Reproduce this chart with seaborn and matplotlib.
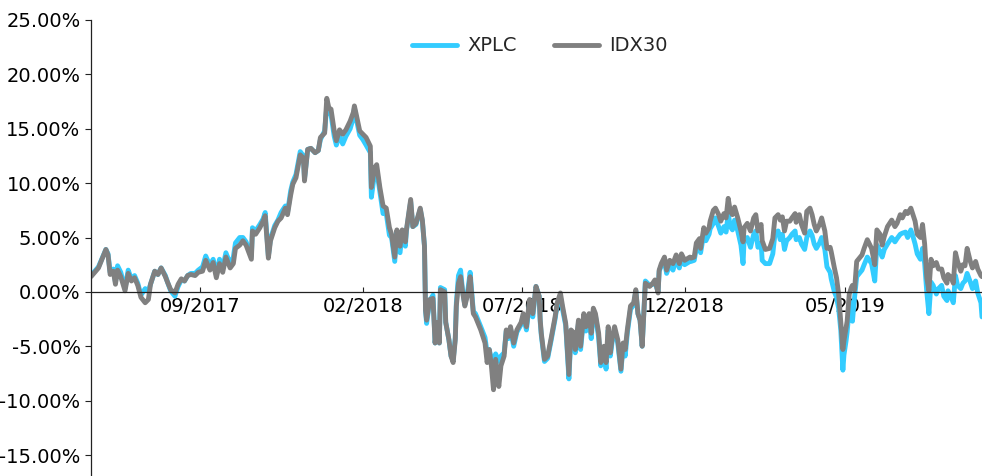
import matplotlib
matplotlib.use("Agg")
import matplotlib.pyplot as plt
import matplotlib.dates as mdates
from matplotlib.ticker import FixedLocator, FuncFormatter
import pandas as pd
import seaborn as sns

# ---------------- data ----------------
start_date = "2017-05-21"
# observation dates, as days after start_date
days = [0, 7, 14, 16, 18, 21, 23, 25, 28, 32, 35, 38, 41, 44, 47, 51, 54, 56, 60, 63,
        66, 70, 72, 75, 79, 82, 85, 88, 91, 94, 98, 101, 105, 108, 112, 115, 118, 121, 124, 127,
        131, 134, 136, 140,
        143, 146, 151, 152, 155, 159, 162, 164, 167, 169, 173, 176, 179, 183, 185, 188, 190, 193, 197, 200,
        201, 204, 207, 211, 214, 216, 220, 222, 224, 226, 229, 231, 234, 237, 240, 244, 247, 248, 250, 253,
        256, 259, 263, 264, 267, 269, 272, 275, 278, 281, 283,
        286, 288, 291, 293, 296, 297, 301, 303, 306, 310, 312, 314, 315, 316, 319, 322, 324, 326, 328, 329,
        333, 334, 337, 339, 341, 343, 344, 346, 348, 350, 352, 355, 357, 360, 362, 367, 371, 373, 375, 377,
        379, 381, 384, 386, 389, 391, 393, 395, 398, 401, 405, 407, 410, 413, 416, 419, 422, 423, 424, 427,
        430, 433, 437, 439, 442, 444, 447, 450, 452, 455, 456, 459, 461, 464, 466, 469, 471, 473, 475, 478,
        480, 483, 485, 487, 489, 491, 493, 496, 499, 501, 503, 505, 508, 511, 513, 515, 517, 519, 522, 526,
        529, 531, 534, 535, 537, 540, 542, 545, 548, 551, 554, 556, 559, 564,
        565, 568, 570, 573, 574, 577, 579, 582, 583, 586, 588, 591, 593, 596, 598, 600, 602, 604, 606, 609,
        612, 614, 615, 618, 621, 624, 626, 628, 631, 632, 635, 639, 642, 644, 647, 649, 651, 653, 655, 658,
        660, 663, 664, 667, 669, 672, 674, 677, 679, 681, 683, 686, 688, 691, 693,
        696, 697, 700, 702, 704, 706, 708, 709, 711, 712, 714, 716, 717, 719, 721, 726, 728, 731, 735, 738,
        740, 743, 745, 747, 750, 754, 757, 759, 762, 764, 767, 769, 772, 774, 776, 778, 781, 783, 785, 787,
        789, 791, 793, 796, 798, 801, 803, 806, 807, 810, 812, 814, 816, 819, 821, 823, 825, 828, 830, 833,
        835, 838, 839]

# cumulative return, %
idx30 = [1.4, 2.2, 3.9, 3.4, 1.6, 1.9, 0.7, 2.0, 1.4, 0.1, 1.7, 1.0, 1.3, 0.6, -0.5, -1.0, -0.7, 0.7, 1.9, 1.6,
         2.2, 1.4, 0.9, 0.2, -0.1, 0.7, 1.2, 1.0, 1.5, 1.6, 1.5, 1.8, 1.9, 2.9, 2.0, 2.7, 1.3, 2.6, 1.8, 3.2,
         2.2, 2.6, 4.0, 4.3,
         4.7, 4.3, 3.0, 5.6, 5.3, 5.9, 6.5, 7.0, 3.1, 4.7, 5.9, 6.5, 6.8, 7.7, 7.1, 8.9, 9.9, 10.5, 12.6, 12.3,
         10.2, 13.1, 13.2, 12.8, 13.0, 14.2, 14.6, 17.8, 16.9, 16.8, 14.8, 13.9, 14.9, 14.5, 14.9, 15.7, 16.5, 17.1, 16.2, 14.8,
         14.5, 14.2, 13.4, 9.6, 11.4, 11.7, 9.6, 7.9, 7.7, 5.9, 5.3,
         3.2, 5.7, 4.2, 5.7, 4.6, 5.7, 8.5, 6.0, 6.3, 7.7, 6.6, 4.2, -1.7, -2.6, -0.7, -0.6, -4.7, -2.8, -4.7, 0.2,
         0.0, -2.8, -4.4, -5.9, -6.5, -4.4, -1.3, 0.8, 1.4, -0.1, -1.3, -0.1, 1.4, -2.0, -2.3, -3.5, -4.7, -6.5, -5.3, -6.8,
         -9.0, -6.2, -8.7, -6.8, -5.9, -3.5, -4.1, -3.2, -4.7, -3.5, -2.8, -2.0, -3.2, -0.7, -2.0, 0.5, -0.4, -2.6, -3.8, -6.2,
         -5.9, -4.4, -2.3, -1.0, -0.1, -1.3, -2.9, -7.6, -3.5, -3.8, -5.3, -2.6, -5.0, -2.0, -3.2, -2.0, -3.8, -1.5, -2.0, -3.8,
         -6.5, -5.0, -6.5, -3.2, -5.6, -4.1, -3.2, -4.4, -7.1, -4.7, -5.3, -3.5, -1.3, -1.0, 0.2, -2.0, -2.6, -5.0, 0.8, 0.5,
         0.8, 1.1, -0.1, 2.0, 2.6, 3.2, 2.0, 2.9, 2.6, 3.4, 2.6, 3.5, 2.9, 3.2,
         3.1, 3.2, 4.5, 4.9, 4.0, 5.9, 5.4, 5.9, 6.5, 7.5, 7.7, 7.1, 6.5, 7.2, 6.8, 8.6, 7.4, 7.1, 7.8, 6.8,
         5.6, 4.6, 5.9, 6.3, 5.6, 6.8, 7.1, 5.6, 6.2, 4.7, 3.9, 4.0, 4.9, 6.8, 7.1, 6.6, 6.9, 5.6, 6.5, 6.5,
         6.8, 7.2, 6.4, 7.1, 6.2, 5.4, 7.4, 7.7, 7.1, 6.2, 5.6, 6.2, 6.8, 5.6, 4.0,
         4.1, 3.7, 2.2, 1.3, -0.2, -2.7, -5.3, -4.5, -3.3, -2.7, -0.2, 0.4, 0.6, 0.2, 2.8, 3.4, 4.0, 4.8, 4.0, 2.5,
         5.7, 5.3, 4.3, 5.1, 6.0, 6.6, 6.0, 6.3, 7.1, 6.8, 7.4, 7.2, 7.7, 7.1, 6.5, 5.3, 5.0, 6.2, 4.4, 1.3,
         0.1, 3.0, 2.4, 2.7, 2.1, 2.1, 1.3, 0.8, 1.6, 1.3, 0.8, 3.6, 2.8, 1.9, 2.5, 2.4, 4.0, 2.8, 2.2, 2.8,
         2.1, 1.5, 1.4]

xplc = [1.5, 2.3, 3.9, 3.5, 1.8, 2.1, 0.9, 2.4, 1.8, 0.3, 2.0, 1.2, 1.5, 0.8, -0.3, 0.3, 0.1, 0.7, 1.9, 1.6,
        2.2, 1.5, 0.9, 0.1, -0.4, 0.5, 1.1, 1.0, 1.5, 1.7, 1.7, 2.0, 2.3, 3.3, 2.4, 3.0, 1.6, 3.0, 2.2, 3.6,
        2.6, 3.2, 4.5, 5.0,
        5.0, 4.6, 3.3, 5.9, 5.6, 6.2, 6.7, 7.3, 3.3, 4.9, 6.1, 6.6, 7.3, 7.9, 7.3, 9.3, 10.1, 10.8, 12.9, 12.5,
        10.4, 13.1, 13.2, 12.8, 13.0, 14.0, 14.8, 17.0, 16.5, 16.3, 14.3, 13.5, 14.4, 13.6, 14.3, 15.0, 16.0, 16.9, 15.8, 14.4,
        14.0, 13.5, 12.8, 8.7, 10.9, 11.2, 9.2, 7.2, 7.2, 5.2, 5.0,
        2.8, 5.5, 3.6, 5.5, 4.2, 5.6, 8.3, 6.0, 6.2, 7.6, 6.5, 4.2, -1.7, -2.9, -0.8, -0.3, -4.7, -2.8, -4.7, 0.4,
        0.2, -2.8, -4.4, -5.9, -6.3, -4.2, -1.0, 1.5, 2.0, 0.0, -1.2, 0.3, 1.8, -1.8, -2.0, -3.2, -4.2, -5.6, -5.3, -6.2,
        -6.3, -5.7, -6.4, -5.9, -5.6, -3.6, -4.3, -3.4, -5.0, -3.7, -3.0, -2.2, -3.5, -0.9, -2.3, 0.5, -0.4, -2.8, -4.0, -6.4,
        -6.1, -4.6, -2.5, -1.2, -0.5, -1.6, -3.1, -8.0, -3.8, -4.1, -5.6, -2.9, -5.3, -2.3, -3.6, -2.3, -4.3, -1.8, -2.2, -4.2,
        -6.8, -5.3, -7.1, -3.5, -5.9, -4.4, -3.5, -4.7, -7.3, -5.0, -5.9, -3.8, -1.6, -1.2, 0.1, -2.0, -2.6, -5.0, 1.0, 0.6,
        0.7, 0.9, 0.0, 1.9, 2.4, 2.8, 1.7, 2.5, 2.0, 3.0, 2.2, 3.0, 2.5, 2.8,
        2.8, 2.9, 4.0, 4.4, 3.6, 5.3, 4.7, 5.3, 5.8, 6.3, 6.8, 6.0, 5.4, 6.0, 5.5, 7.2, 6.0, 5.7, 6.6, 5.6,
        4.3, 2.6, 4.8, 5.0, 4.1, 5.3, 5.6, 4.1, 4.5, 2.9, 2.6, 2.6, 3.5, 5.3, 5.6, 4.8, 5.3, 3.9, 4.7, 5.0,
        5.3, 5.6, 4.8, 5.0, 4.4, 3.9, 5.0, 5.6, 5.2, 4.4, 4.0, 4.5, 5.0, 3.9, 2.3,
        1.8, 1.2, 0.0, -0.5, -1.5, -3.5, -7.2, -5.8, -4.5, -3.7, -1.5, -1.0, -2.7, -0.5, 1.4, 2.0, 2.5, 3.2, 2.6, 1.0,
        4.3, 3.7, 3.2, 3.9, 4.4, 5.0, 4.6, 4.9, 5.3, 5.4, 5.5, 5.0, 5.7, 5.1, 4.4, 3.5, 3.0, 4.0, 2.6, 0.0,
        -2.0, 0.9, 0.6, -0.2, 0.3, 0.6, -0.4, -0.8, 0.1, -0.5, -1.0, 1.5, 0.6, 0.3, 0.8, 1.0, 1.7, 0.9, 0.3, 1.0,
        -0.1, -1.0, -2.3]

series_names = ["XPLC", "IDX30"]
series_colors = {"XPLC": "#33ccff", "IDX30": "#808080"}
y_ticks = [-15, -10, -5, 0, 5, 10, 15, 20, 25]
x_ticks = ["2017-09-01", "2018-02-01", "2018-07-01", "2018-12-01", "2019-05-01"]

# ---------------- frame ----------------
dates = pd.to_datetime(start_date) + pd.to_timedelta(days, unit="D")
df = pd.concat([
    pd.DataFrame({"date": dates, "ret": xplc, "name": "XPLC"}),
    pd.DataFrame({"date": dates, "ret": idx30, "name": "IDX30"}),
], ignore_index=True)

sns.set_theme(style="white")
plt.rcParams["font.family"] = ["DejaVu Sans"]
plt.rcParams["axes.unicode_minus"] = False

FS = 14
fig = plt.figure(figsize=(9.82, 4.76), dpi=100)
ax = fig.add_axes([0.0927, 0.0, 0.9073, 0.958])

sns.lineplot(data=df, x="date", y="ret", hue="name", hue_order=series_names,
             palette=series_colors, linewidth=3.5, ax=ax, legend=True, sort=False)

ax.set_xlim(dates[0], dates[-1])
ax.set_ylim(-16.93, 25)
ax.yaxis.set_major_locator(FixedLocator(y_ticks))
ax.yaxis.set_major_formatter(FuncFormatter(lambda v, p: f"{v:.2f}%"))
ax.xaxis.set_major_locator(FixedLocator(mdates.date2num(pd.to_datetime(x_ticks))))
ax.xaxis.set_major_formatter(mdates.DateFormatter("%m/%Y"))
ax.set_xlabel("")
ax.set_ylabel("")

for s in ["top", "right"]:
    ax.spines[s].set_visible(False)
ax.spines["bottom"].set_position(("data", 0))
for s in ["left", "bottom"]:
    ax.spines[s].set_color("#222222")
    ax.spines[s].set_linewidth(0.9)

ax.tick_params(axis="x", bottom=True, direction="in", length=3.5, width=0.8,
               labelsize=FS, pad=4, colors="#222222", labelcolor="black")
ax.tick_params(axis="y", left=True, direction="out", length=4.5, width=0.8,
               labelsize=FS, pad=3, colors="#222222", labelcolor="black")

handles, labels = ax.get_legend_handles_labels()
leg = ax.legend(handles, labels, loc="center", bbox_to_anchor=(0.504, 0.943),
                ncol=2, frameon=False, fontsize=FS, handlelength=2.3,
                handletextpad=0.55, columnspacing=1.9)
for ln in leg.get_lines():
    ln.set_linewidth(3.5)

fig.savefig("out.png", dpi=100)
